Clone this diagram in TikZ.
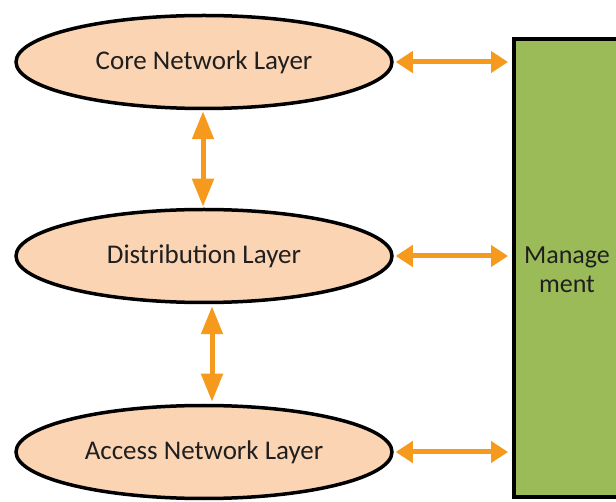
\documentclass[tikz,border=0pt]{standalone}
\usepackage{fontspec}
\setmainfont{Carlito}
\usetikzlibrary{shapes.geometric,arrows.meta}
\definecolor{peach}{HTML}{FBD4B4}
\definecolor{mgreen}{HTML}{9BBB59}
\definecolor{arr}{HTML}{F59A1C}
\definecolor{txt}{HTML}{1F1F1F}
\tikzset{
  layer/.style={ellipse, draw=black, line width=3.5pt, fill=peach, minimum width=376pt, minimum height=93pt, inner sep=0pt, font=\fontsize{27}{31}\selectfont, text=txt},
  hlink/.style={draw=arr, line width=5pt, {Triangle[length=17pt,width=21pt]}-{Triangle[length=17pt,width=21pt]}},
  vlink/.style={draw=arr, line width=5pt, {Triangle[length=28pt,width=21pt]}-{Triangle[length=28pt,width=21pt]}}
}
\begin{document}
\begin{tikzpicture}[x=1pt,y=-1pt]
\useasboundingbox (0,0) rectangle (616,502);
\clip (0,0) rectangle (616,502);
\node[layer] (core) at (204,62) {Core Network Layer};
\node[layer] (dist) at (204,256) {Distribution Layer};
\node[layer] (acc) at (204,452) {Access Network Layer};
\draw[line width=3.5pt, fill=mgreen] (514,39) rectangle (640,497);
\coordinate (mgL1) at (508,62);
\coordinate (mgL2) at (508,256);
\coordinate (mgL3) at (508,452);
\node[font=\fontsize{26}{29}\selectfont, text=txt, align=center] (mg) at (567,270) {Manage\\ment};
\draw[hlink] ([xshift=2pt]core.east) -- (mgL1);
\draw[hlink] ([xshift=2pt]dist.east) -- (mgL2);
\draw[hlink] ([xshift=2pt]acc.east) -- (mgL3);
\draw[vlink] ([xshift=-1pt,yshift=-1pt]core.south) -- ([xshift=-1pt,yshift=1pt]dist.north);
\draw[vlink] ([xshift=8pt,yshift=-2pt]dist.south) -- ([xshift=8pt,yshift=2pt]acc.north);
\end{tikzpicture}
\end{document}
